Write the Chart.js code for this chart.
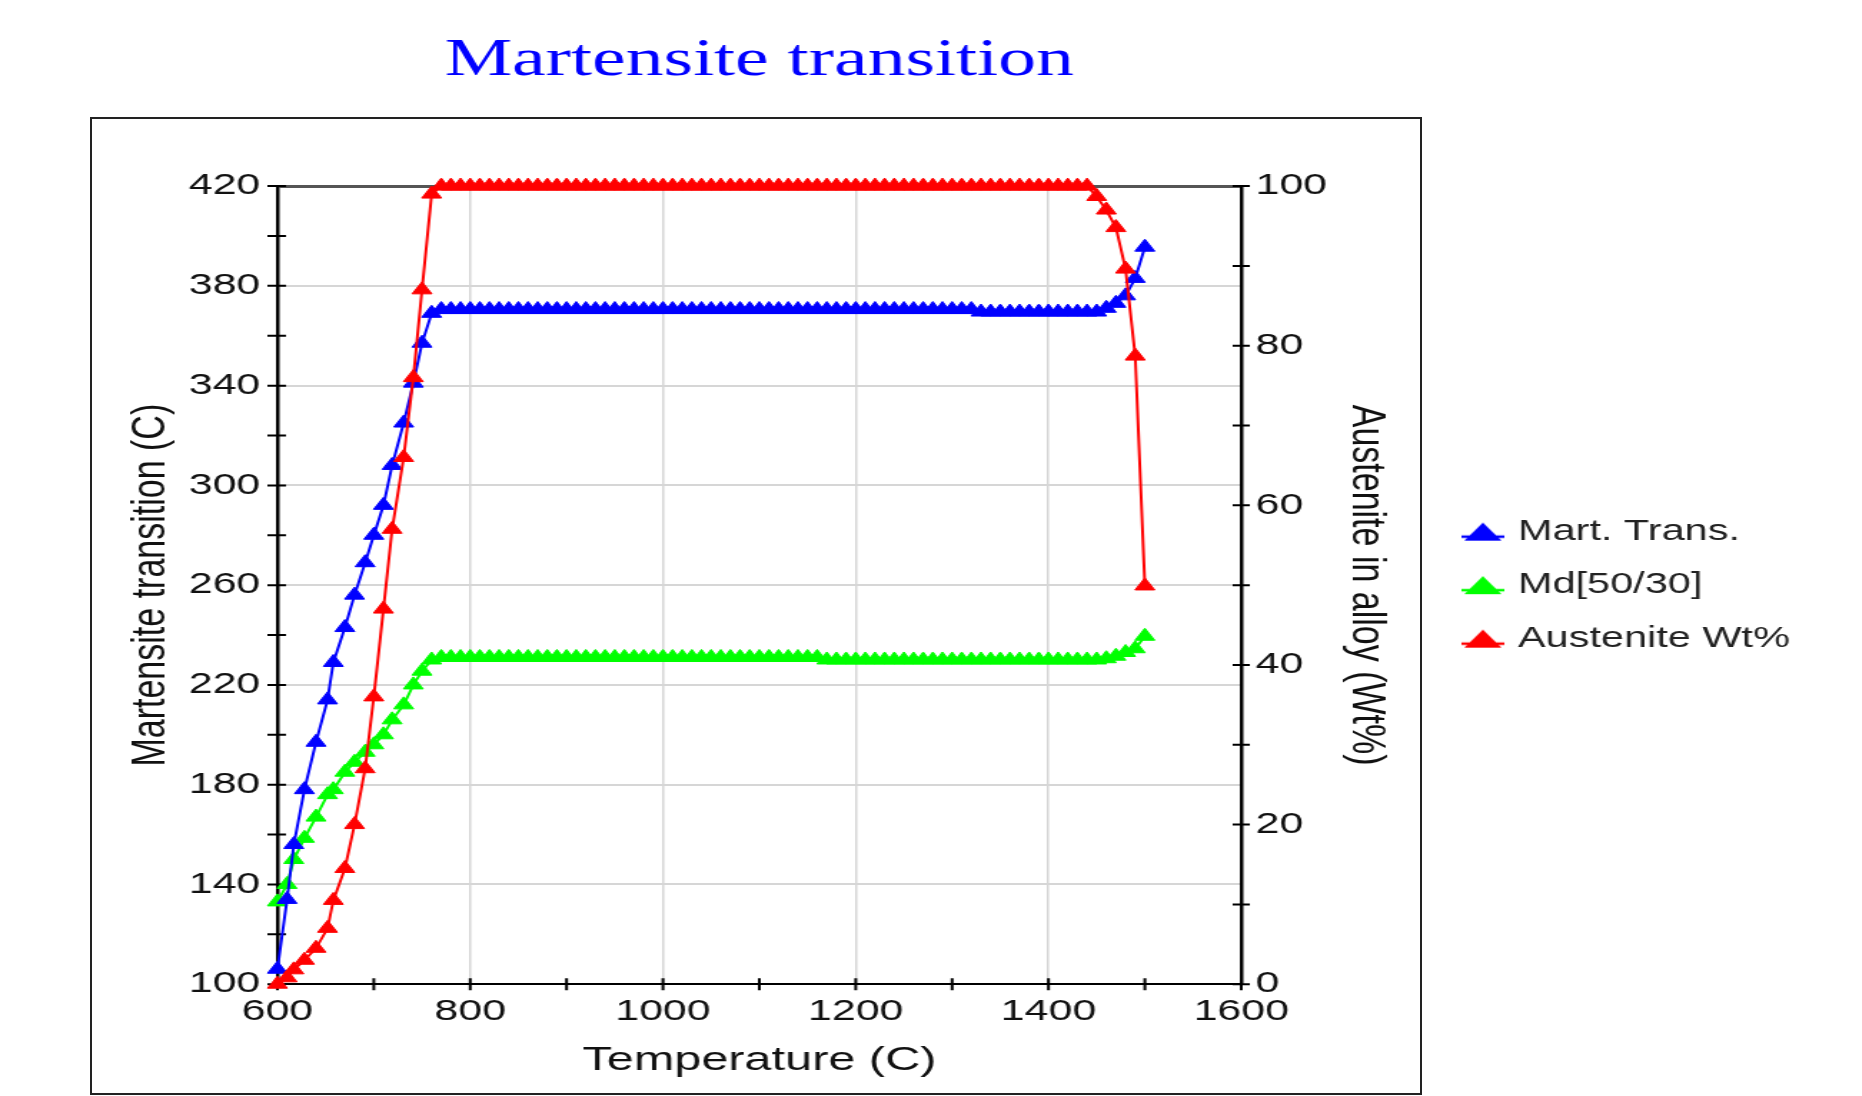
<!DOCTYPE html>
<html>
<head>
<meta charset="utf-8">
<title>Martensite transition</title>
<script src="https://cdn.jsdelivr.net/npm/chart.js@4.4.1/dist/chart.umd.min.js"></script>
<style>
  html, body { margin: 0; padding: 0; background: #fff; overflow: hidden; }
  /* outer box around the plot (legend sits outside it) */
  #frame {
    position: absolute; left: 90px; top: 117px; width: 1332px; height: 978px;
    border: 2px solid #222; box-sizing: border-box;
  }
  /* the chart is drawn narrow and widened, like the original wide export */
  #wrap {
    position: absolute; left: 0; top: 0; width: 1302px; height: 1096px;
    transform: scaleX(1.43); transform-origin: 0 0;
  }
</style>
</head>
<body>
<div id="frame"></div>
<div id="wrap"><canvas id="martChart"></canvas></div>
<script>
// step temperatures (C)
const temps = [
  600, 610, 617, 628, 640, 652, 658, 670, 680, 691,
  700, 710, 719, 731, 741, 750, 760, 770, 780, 790,
  800, 810, 820, 830, 840, 850, 860, 870, 880, 890,
  900, 910, 920, 930, 940, 950, 960, 970, 980, 990,
  1000, 1010, 1020, 1030, 1040, 1050, 1060, 1070, 1080, 1090,
  1100, 1110, 1120, 1130, 1140, 1150, 1160, 1170, 1180, 1190,
  1200, 1210, 1220, 1230, 1240, 1250, 1260, 1270, 1280, 1290,
  1300, 1310, 1320, 1330, 1340, 1350, 1360, 1370, 1380, 1390,
  1400, 1410, 1420, 1430, 1440, 1450, 1460, 1470, 1480, 1490,
  1500
];

// Ms - martensite start (C), left axis
const martTrans = [
  106, 134, 156, 178, 197, 214, 229, 243, 256, 269,
  280, 292, 308, 325, 341, 357, 369, 370.5, 370.5, 370.5,
  370.5, 370.5, 370.5, 370.5, 370.5, 370.5, 370.5, 370.5, 370.5, 370.5,
  370.5, 370.5, 370.5, 370.5, 370.5, 370.5, 370.5, 370.5, 370.5, 370.5,
  370.5, 370.5, 370.5, 370.5, 370.5, 370.5, 370.5, 370.5, 370.5, 370.5,
  370.5, 370.5, 370.5, 370.5, 370.5, 370.5, 370.5, 370.5, 370.5, 370.5,
  370.5, 370.5, 370.5, 370.5, 370.5, 370.5, 370.5, 370.5, 370.5, 370.5,
  370.5, 370.5, 370.5, 369.5, 369.5, 369.5, 369.5, 369.5, 369.5, 369.5,
  369.5, 369.5, 369.5, 369.5, 369.5, 369.5, 371, 373, 376, 383,
  395.5
];

// Md(50/30) (C), left axis
const md5030 = [
  133, 140, 150, 158.5, 167, 176, 178, 185, 189, 193,
  196, 200, 206, 212, 220, 225.5, 230, 231, 231, 231,
  231, 231, 231, 231, 231, 231, 231, 231, 231, 231,
  231, 231, 231, 231, 231, 231, 231, 231, 231, 231,
  231, 231, 231, 231, 231, 231, 231, 231, 231, 231,
  231, 231, 231, 231, 231, 231, 231, 230, 230, 230,
  230, 230, 230, 230, 230, 230, 230, 230, 230, 230,
  230, 230, 230, 230, 230, 230, 230, 230, 230, 230,
  230, 230, 230, 230, 230, 230, 230.5, 231.5, 233, 234.5,
  239.5
];

// austenite content (wt%), right axis
const austenite = [
  0, 0.8, 1.8, 3, 4.5, 7, 10.5, 14.5, 20, 27,
  36, 47, 57, 66, 76, 87, 99, 100, 100, 100,
  100, 100, 100, 100, 100, 100, 100, 100, 100, 100,
  100, 100, 100, 100, 100, 100, 100, 100, 100, 100,
  100, 100, 100, 100, 100, 100, 100, 100, 100, 100,
  100, 100, 100, 100, 100, 100, 100, 100, 100, 100,
  100, 100, 100, 100, 100, 100, 100, 100, 100, 100,
  100, 100, 100, 100, 100, 100, 100, 100, 100, 100,
  100, 100, 100, 100, 100, 98.7, 97, 94.8, 89.6, 78.7,
  49.9
];

const seriesNames = ['Mart. Trans.', 'Md[50/30]', 'Austenite Wt%'];
const seriesColors = ['#0000ff', '#00ff00', '#ff0000'];

// axis ranges: [min, max, tick step, label step]
const tempAxis = [600, 1600, 100, 200];
const martAxis = [100, 420, 20, 40];
const austAxis = [0, 100, 10, 20];

Chart.defaults.font.family = "'Liberation Sans', Arial, sans-serif";
Chart.defaults.color = '#111';

function toPoints(values) {
  return temps.map((t, i) => ({ x: t, y: values[i] }));
}

// small "line + triangle" swatch for the legend
function legendMarker(color) {
  const c = document.createElement('canvas');
  c.width = 30;
  c.height = 20;
  const g = c.getContext('2d');
  g.strokeStyle = color;
  g.lineWidth = 2.5;
  g.beginPath();
  g.moveTo(0, 15);
  g.lineTo(30, 15);
  g.stroke();
  g.fillStyle = color;
  g.beginPath();
  g.moveTo(15, 1);
  g.lineTo(28, 19);
  g.lineTo(2, 19);
  g.closePath();
  g.fill();
  return c;
}
const legendMarkers = seriesColors.map(legendMarker);

// tick marks that cross the axis lines
const axisTicks = {
  id: 'axisTicks',
  beforeDatasetsDraw(chart) {
    const { ctx, chartArea, scales } = chart;
    ctx.save();
    ctx.strokeStyle = '#000';
    ctx.lineWidth = 2;
    ctx.beginPath();
    scales.x.ticks.forEach(t => {
      const px = scales.x.getPixelForValue(t.value);
      ctx.moveTo(px, chartArea.bottom - 6);
      ctx.lineTo(px, chartArea.bottom + 6);
    });
    scales.y.ticks.forEach(t => {
      const py = scales.y.getPixelForValue(t.value);
      ctx.moveTo(chartArea.left - 7, py);
      ctx.lineTo(chartArea.left + 6, py);
    });
    scales.y2.ticks.forEach(t => {
      const py = scales.y2.getPixelForValue(t.value);
      ctx.moveTo(chartArea.right - 6, py);
      ctx.lineTo(chartArea.right + 6, py);
    });
    ctx.stroke();
    ctx.restore();
  }
};

function makeSeries(i, values, axis, order) {
  return {
    label: seriesNames[i],
    data: toPoints(values),
    yAxisID: axis,
    order: order,
    borderColor: seriesColors[i],
    backgroundColor: seriesColors[i],
    borderWidth: 2,
    tension: 0,
    clip: false,
    pointStyle: 'triangle',
    pointRadius: 8,
    pointBorderWidth: 1,
    pointBackgroundColor: seriesColors[i],
    pointBorderColor: seriesColors[i]
  };
}

const gridGray = '#d6d6d6';
const none = 'rgba(0,0,0,0)';

new Chart(document.getElementById('martChart'), {
  type: 'line',
  data: {
    datasets: [
      makeSeries(0, martTrans, 'y', 1),
      makeSeries(1, md5030, 'y', 2),
      makeSeries(2, austenite, 'y2', 0)
    ]
  },
  plugins: [axisTicks],
  options: {
    responsive: true,
    maintainAspectRatio: false,
    animation: false,
    layout: { padding: { left: 0, right: 47.5, top: 0, bottom: 11 } },
    plugins: {
      title: {
        display: true,
        text: 'Martensite transition',
        color: '#0000ff',
        fullSize: false,
        font: { family: "'Liberation Serif', 'Times New Roman', serif", size: 53, weight: 'normal' },
        padding: { top: 29.5, bottom: 93 }
      },
      legend: {
        position: 'right',
        align: 'center',
        fullSize: false,
        maxWidth: 252,
        labels: {
          usePointStyle: true,
          pointStyleWidth: 20,
          padding: 24.5,
          color: '#222',
          font: { size: 29 },
          generateLabels(chart) {
            const items = Chart.defaults.plugins.legend.labels.generateLabels(chart);
            items.sort((a, b) => a.datasetIndex - b.datasetIndex);
            items.forEach(item => { item.pointStyle = legendMarkers[item.datasetIndex]; });
            return items;
          }
        }
      },
      tooltip: { enabled: false }
    },
    scales: {
      x: {
        type: 'linear',
        min: tempAxis[0],
        max: tempAxis[1],
        border: { color: '#000', width: 2 },
        grid: {
          drawTicks: false,
          lineWidth: 1.5,
          color: c => c.tick.value % tempAxis[3] === 0 ? gridGray : none
        },
        ticks: {
          stepSize: tempAxis[2],
          autoSkip: false,
          maxRotation: 0,
          padding: 10,
          font: { size: 30 },
          callback: v => v % tempAxis[3] === 0 ? v : ''
        },
        title: { display: true, text: 'Temperature (C)', font: { size: 34 }, padding: { top: 0, bottom: 4 } }
      },
      y: {
        position: 'left',
        min: martAxis[0],
        max: martAxis[1],
        afterFit: s => { s.width = 194; },
        border: { color: '#000', width: 2.5 },
        grid: {
          drawTicks: false,
          lineWidth: c => c.tick.value === martAxis[1] ? 3 : 2,
          color: c => {
            if (c.tick.value === martAxis[1]) return '#555';
            return (c.tick.value - martAxis[0]) % martAxis[3] === 0 ? gridGray : none;
          }
        },
        ticks: {
          stepSize: martAxis[2],
          autoSkip: false,
          padding: 12,
          font: { size: 30 },
          callback: v => (v - martAxis[0]) % martAxis[3] === 0 ? v : ''
        },
        title: { display: true, text: 'Martensite transition (C)', font: { size: 34 }, padding: { top: 85, bottom: 0 } }
      },
      y2: {
        position: 'right',
        min: austAxis[0],
        max: austAxis[1],
        afterFit: s => { s.width = 134.5; },
        border: { color: '#000', width: 2.5 },
        grid: { drawOnChartArea: false, drawTicks: false },
        ticks: {
          stepSize: austAxis[2],
          autoSkip: false,
          padding: 10,
          font: { size: 30 },
          callback: v => v % austAxis[3] === 0 ? v : ''
        },
        title: { display: true, text: 'Austenite in alloy (Wt%)', font: { size: 34 }, padding: { top: 26.5, bottom: 0 } }
      }
    }
  }
});
</script>
</body>
</html>
